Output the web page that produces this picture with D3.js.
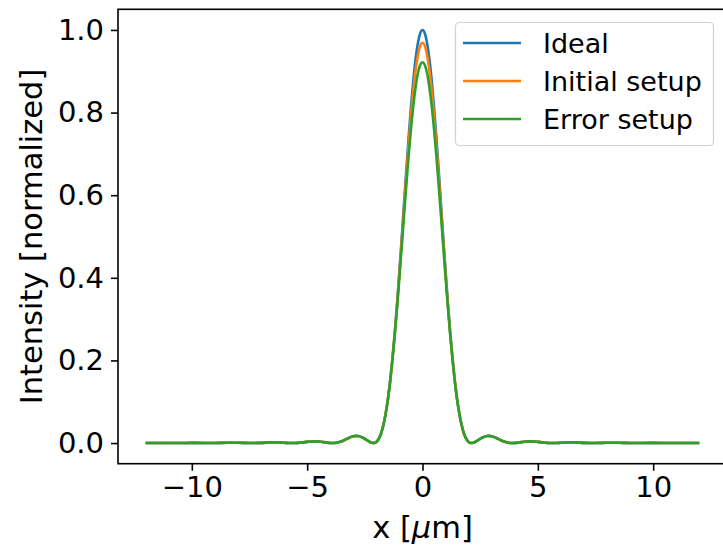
<!DOCTYPE html>
<html>
<head>
<meta charset="utf-8">
<script src="https://cdn.jsdelivr.net/npm/d3@7"></script>
<style>
  html, body { margin: 0; padding: 0; background: #fff; }
  svg text { font-family: "DejaVu Sans", sans-serif; fill: #000; }
</style>
</head>
<body>
<div id="chart"></div>
<script>
// ---------- data ----------
const xValues = [
  -12, -11.5, -11, -10.5, -10, -9.5, -9, -8.5, -8, -7.5, -7, -6.5, -6,
  -5.8, -5.6, -5.4, -5.2, -5, -4.8, -4.6, -4.4, -4.2, -4,
  -3.8, -3.6, -3.4, -3.2, -3, -2.9, -2.8, -2.6, -2.4, -2.2, -2.1, -2, -1.9, -1.8, -1.7,
  -1.6, -1.5, -1.4, -1.3, -1.2, -1.1, -1, -0.9, -0.8, -0.7, -0.6, -0.5, -0.4, -0.3, -0.2, -0.1,
  0,
  0.1, 0.2, 0.3, 0.4, 0.5, 0.6, 0.7, 0.8, 0.9, 1, 1.1, 1.2, 1.3, 1.4, 1.5, 1.6,
  1.7, 1.8, 1.9, 2, 2.1, 2.2, 2.4, 2.6, 2.8, 2.9, 3, 3.2, 3.4, 3.6, 3.8,
  4, 4.2, 4.4, 4.6, 4.8, 5, 5.2, 5.4, 5.6, 5.8,
  6, 6.5, 7, 7.5, 8, 8.5, 9, 9.5, 10, 10.5, 11, 11.5, 12
];

const idealValues = [
  0.0002, 0.0002, 0.0000, 0.0001, 0.0004, 0.0002, 0.0000, 0.0006, 0.0007, 0.0000, 0.0005, 0.0016, 0.0007,
  0.0002, 0.0000, 0.0005, 0.0016, 0.0029, 0.0039, 0.0040, 0.0032, 0.0016, 0.0002,
  0.0002, 0.0023, 0.0067, 0.0121, 0.0162, 0.0174, 0.0172, 0.0133, 0.0067, 0.0007, 0.0001, 0.0027, 0.0098, 0.0226, 0.0424,
  0.0700, 0.1064, 0.1518, 0.2063, 0.2694, 0.3400, 0.4167, 0.4976, 0.5804, 0.6624, 0.7411, 0.8135, 0.8770, 0.9291, 0.9680, 0.9919,
  1.0000,
  0.9919, 0.9680, 0.9291, 0.8770, 0.8135, 0.7411, 0.6624, 0.5804, 0.4976, 0.4167, 0.3400, 0.2694, 0.2063, 0.1518, 0.1064, 0.0700,
  0.0424, 0.0226, 0.0098, 0.0027, 0.0001, 0.0007, 0.0067, 0.0133, 0.0172, 0.0174, 0.0162, 0.0121, 0.0067, 0.0023, 0.0002,
  0.0002, 0.0016, 0.0032, 0.0040, 0.0039, 0.0029, 0.0016, 0.0005, 0.0000, 0.0002,
  0.0007, 0.0016, 0.0005, 0.0000, 0.0007, 0.0006, 0.0000, 0.0002, 0.0004, 0.0001, 0.0000, 0.0002, 0.0002
];

const initialValues = [
  0.0002, 0.0002, 0.0000, 0.0001, 0.0004, 0.0002, 0.0000, 0.0006, 0.0007, 0.0000, 0.0005, 0.0016, 0.0007,
  0.0002, 0.0000, 0.0005, 0.0016, 0.0029, 0.0039, 0.0040, 0.0032, 0.0016, 0.0002,
  0.0002, 0.0023, 0.0067, 0.0121, 0.0162, 0.0174, 0.0172, 0.0133, 0.0067, 0.0007, 0.0001, 0.0027, 0.0098, 0.0226, 0.0424,
  0.0700, 0.1059, 0.1508, 0.2043, 0.2664, 0.3350, 0.4097, 0.4886, 0.5684, 0.6474, 0.7231, 0.7925, 0.8530, 0.9021, 0.9390, 0.9614,
  0.9690,
  0.9614, 0.9390, 0.9021, 0.8530, 0.7925, 0.7231, 0.6474, 0.5684, 0.4886, 0.4097, 0.3350, 0.2664, 0.2043, 0.1508, 0.1059, 0.0700,
  0.0424, 0.0226, 0.0098, 0.0027, 0.0001, 0.0007, 0.0067, 0.0133, 0.0172, 0.0174, 0.0162, 0.0121, 0.0067, 0.0023, 0.0002,
  0.0002, 0.0016, 0.0032, 0.0040, 0.0039, 0.0029, 0.0016, 0.0005, 0.0000, 0.0002,
  0.0007, 0.0016, 0.0005, 0.0000, 0.0007, 0.0006, 0.0000, 0.0002, 0.0004, 0.0001, 0.0000, 0.0002, 0.0002
];

const errorValues = [
  0.0002, 0.0002, 0.0000, 0.0001, 0.0004, 0.0002, 0.0000, 0.0006, 0.0007, 0.0000, 0.0005, 0.0016, 0.0007,
  0.0002, 0.0000, 0.0005, 0.0016, 0.0029, 0.0039, 0.0040, 0.0032, 0.0016, 0.0002,
  0.0002, 0.0023, 0.0067, 0.0121, 0.0162, 0.0174, 0.0172, 0.0133, 0.0067, 0.0007, 0.0001, 0.0027, 0.0098, 0.0226, 0.0424,
  0.0700, 0.1054, 0.1498, 0.2023, 0.2624, 0.3290, 0.4007, 0.4756, 0.5514, 0.6254, 0.6961, 0.7605, 0.8160, 0.8611, 0.8950, 0.9149,
  0.9220,
  0.9149, 0.8950, 0.8611, 0.8160, 0.7605, 0.6961, 0.6254, 0.5514, 0.4756, 0.4007, 0.3290, 0.2624, 0.2023, 0.1498, 0.1054, 0.0700,
  0.0424, 0.0226, 0.0098, 0.0027, 0.0001, 0.0007, 0.0067, 0.0133, 0.0172, 0.0174, 0.0162, 0.0121, 0.0067, 0.0023, 0.0002,
  0.0002, 0.0016, 0.0032, 0.0040, 0.0039, 0.0029, 0.0016, 0.0005, 0.0000, 0.0002,
  0.0007, 0.0016, 0.0005, 0.0000, 0.0007, 0.0006, 0.0000, 0.0002, 0.0004, 0.0001, 0.0000, 0.0002, 0.0002
];

const seriesNames = ["Ideal", "Initial setup", "Error setup"];
const seriesColors = ["#1f77b4", "#ff7f0e", "#2ca02c"];
const xTickValues = [-10, -5, 0, 5, 10];
const yTickValues = [0.0, 0.2, 0.4, 0.6, 0.8, 1.0];
const xDomain = [-13.2, 13.2];
const yDomain = [-0.05, 1.05];

// ---------- drawing ----------
const W = 723, H = 548;
const plot = { left: 118, right: 727, top: 9.3, bottom: 463.7 };
const TICK_FS = 29, LABEL_FS = 30.5, LEGEND_FS = 27;

const svg = d3.select("#chart").append("svg")
  .attr("width", W).attr("height", H)
  .attr("viewBox", `0 0 ${W} ${H}`);

const x = d3.scaleLinear().domain(xDomain).range([plot.left, plot.right]);
const y = d3.scaleLinear().domain(yDomain).range([plot.bottom, plot.top]);

const seriesData = [idealValues, initialValues, errorValues].map((vals, i) => ({
  name: seriesNames[i],
  color: seriesColors[i],
  points: xValues.map((xv, j) => ({ x: xv, y: vals[j] }))
}));

const clipId = "plotclip";
svg.append("clipPath").attr("id", clipId)
  .append("rect")
  .attr("x", plot.left).attr("y", plot.top)
  .attr("width", plot.right - plot.left).attr("height", plot.bottom - plot.top);

const line = d3.line()
  .x(d => x(d.x)).y(d => y(d.y))
  .curve(d3.curveMonotoneX);

svg.append("g").attr("clip-path", `url(#${clipId})`)
  .selectAll("path.series")
  .data(seriesData)
  .join("path")
  .attr("class", "series")
  .attr("d", d => line(d.points))
  .attr("fill", "none")
  .attr("stroke", d => d.color)
  .attr("stroke-width", 2.6)
  .attr("stroke-linejoin", "round");

// frame (spines)
svg.append("rect")
  .attr("x", plot.left).attr("y", plot.top)
  .attr("width", plot.right - plot.left).attr("height", plot.bottom - plot.top)
  .attr("fill", "none").attr("stroke", "#000").attr("stroke-width", 1.6);

// x axis
const xAxis = svg.append("g")
  .attr("transform", `translate(0,${plot.bottom})`)
  .call(d3.axisBottom(x).tickValues(xTickValues).tickSize(7).tickPadding(6)
        .tickFormat(d3.format("d")));
xAxis.select(".domain").remove();
xAxis.selectAll(".tick line").attr("stroke", "#000").attr("stroke-width", 1.6);
xAxis.selectAll(".tick text").attr("font-size", TICK_FS).attr("font-family", "DejaVu Sans").attr("fill", "#000");

// y axis
const yAxis = svg.append("g")
  .attr("transform", `translate(${plot.left},0)`)
  .call(d3.axisLeft(y).tickValues(yTickValues).tickSize(7).tickPadding(7)
        .tickFormat(d3.format(".1f")));
yAxis.select(".domain").remove();
yAxis.selectAll(".tick line").attr("stroke", "#000").attr("stroke-width", 1.6);
yAxis.selectAll(".tick text").attr("font-size", TICK_FS).attr("font-family", "DejaVu Sans").attr("fill", "#000");

// axis labels
const xl = svg.append("text")
  .attr("x", x(0)).attr("y", 538)
  .attr("text-anchor", "middle")
  .attr("font-size", LABEL_FS);
xl.append("tspan").text("x [");
xl.append("tspan").attr("font-style", "italic").text("μ");
xl.append("tspan").text("m]");

svg.append("text")
  .attr("transform", `translate(31,${(plot.top + plot.bottom) / 2}) rotate(-90)`)
  .attr("text-anchor", "middle")
  .attr("dominant-baseline", "central")
  .attr("font-size", LABEL_FS)
  .text("Intensity [normalized]");

// legend
const lg = svg.append("g");
lg.append("rect")
  .attr("x", 455.5).attr("y", 22.5).attr("width", 258).attr("height", 123)
  .attr("rx", 4).attr("ry", 4)
  .attr("fill", "#fff").attr("fill-opacity", 0.8)
  .attr("stroke", "#d0d0d0").attr("stroke-width", 1.2);
const rowY = [43, 81, 119];
seriesData.forEach((s, i) => {
  lg.append("line")
    .attr("x1", 463).attr("x2", 521)
    .attr("y1", rowY[i]).attr("y2", rowY[i])
    .attr("stroke", s.color).attr("stroke-width", 2.6);
  lg.append("text")
    .attr("x", 543).attr("y", rowY[i])
    .attr("dominant-baseline", "central")
    .attr("font-size", LEGEND_FS)
    .text(s.name);
});
</script>
</body>
</html>
